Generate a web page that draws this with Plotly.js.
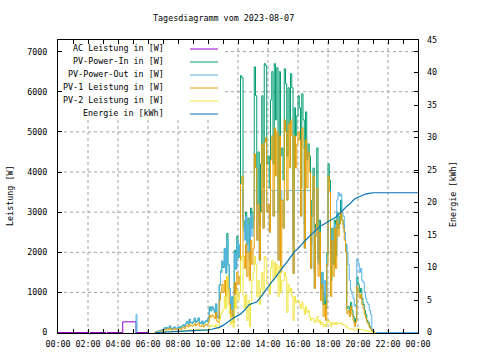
<!DOCTYPE html>
<html><head><meta charset="utf-8">
<script src="https://cdn.plot.ly/plotly-3.0.1.min.js"></script>
<style>html,body{margin:0;padding:0;background:#fff}</style>
</head><body><div id="c" style="width:480px;height:360px"></div>
<script>
const DAY = '2023-08-07';
const titleText = 'Tagesdiagramm vom 2023-08-07';
const seriesNames = ['AC Leistung in [W]','PV-Power-In in [W]','PV-Power-Out in [W]','PV-1 Leistung in [W]','PV-2 Leistung in [W]','Energie in [kWh]'];
const seriesColors = ['#9400d3','#009e73','#56b4e9','#e69f00','#f0e442','#0072b2'];
const yLeftTicks = [0,1000,2000,3000,4000,5000,6000,7000];
const yRightTicks = [0,5,10,15,20,25,30,35,40,45];
const xGridHours = [2,4,6,8,10,12,14,16,18,20,22];

// AC Leistung (night values)
const acTimes = ['00:00','02:01','02:03','02:08','03:12','03:14','03:16','04:19','05:12','06:01'];
const acVals  = [0,0,null,0,0,null,0,266,0,0];

// PV-Power-Out early spike
const outEarlyTimes = ['05:08','05:12','05:16','05:18'];
const outEarlyVals  = [0,450,0,null];

// 5-minute samples from 06:25 to 21:10
const pvIn = [
 0,15,25,30,40,50,70,
 75,120,85,125,95,160,110,85,120,135,95,115,
 120,140,115,160,190,150,220,270,210,330,250,230,
 270,360,250,290,350,240,220,280,210,250,290,270,
 360,640,540,630,580,500,700,400,360,1180,1500,1760,
 1620,2080,1480,2470,1680,1080,580,880,380,2050,1580,2400,
 1870,2150,6400,6350,2800,2500,3000,2200,2850,2000,3100,2600,
 3000,6620,5900,3200,4500,2700,4200,5900,3600,6700,6650,4200,
 4400,3600,5800,6500,4200,6700,5300,6600,3000,6500,4400,4600,
 3800,6570,6200,4400,6100,5200,6450,6100,2300,5600,4900,5400,
 5900,5600,3600,5950,5300,2700,5500,4300,4700,4400,2200,3300,
 4100,1500,2700,4600,1800,2800,1100,1500,700,1000,600,2000,
 4200,3800,1300,2600,1700,2800,1900,3000,2600,2900,3300,2800,
 2700,2500,2200,600,650,500,750,550,400,250,350,1370,
 1200,1000,1100,850,700,550,450,300,250,150,100,40,
 20,0,0];
const pvOut = [
 0,20,30,35,40,55,75,
 80,110,90,130,100,170,120,90,110,140,100,120,
 130,150,120,170,200,160,230,280,220,320,260,240,
 280,350,260,300,370,250,230,290,220,260,300,280,
 380,620,560,650,600,520,720,420,380,1200,1540,1790,
 1650,2100,1500,2350,1700,1100,600,900,400,2000,1600,2300,
 1900,2200,3540,3540,2600,2300,2900,2000,2700,1800,2950,2400,
 2800,3540,3540,2300,3200,1800,3000,3540,2600,3540,3540,3000,
 3200,2500,3540,3540,2900,3540,3540,3540,1800,3540,3540,3300,
 2600,3540,3540,3300,3540,3540,3540,3540,1470,3540,3540,3540,
 3540,3540,2900,3540,3540,2100,3540,3540,3540,3540,1600,2900,
 3540,1100,2600,3540,1700,2500,1200,1500,900,1300,800,1900,
 3540,3540,1600,2400,1900,2700,2200,3300,3490,3400,3450,3000,
 2900,2500,2200,2000,1700,1300,1050,950,850,650,700,1840,
 1720,1500,1600,1300,1250,1000,850,750,700,550,450,80,
 40,0,0];
const pv1 = [
 0,10,15,20,25,30,45,
 55,75,60,85,70,110,80,60,75,95,70,80,
 85,100,80,110,130,100,150,180,140,200,170,160,
 180,220,170,200,240,160,150,190,140,170,200,185,
 250,420,380,440,400,350,500,280,250,800,1000,1200,
 1000,1300,900,1400,1050,700,380,550,250,1250,950,1500,
 1200,1400,3700,3900,1900,1600,2200,1400,2000,1300,2300,1700,
 2100,4450,4100,2300,3200,1800,3000,4700,2600,4750,4860,3000,
 3200,2500,4300,4900,2900,5100,3900,5000,1800,4900,1500,3300,
 2600,5300,5000,3300,5200,4100,5300,4900,1470,4900,4100,4700,
 5000,4800,2900,5100,4600,2100,4800,3600,4500,4000,1600,2900,
 3900,1100,2400,3600,1400,2500,800,1200,400,700,300,1700,
 3900,3500,900,2300,1400,2600,1600,2800,2400,2700,3000,2800,
 2600,2300,2000,470,550,400,650,450,300,150,250,1150,
 1000,850,950,700,600,450,350,250,200,120,80,30,
 15,0,0];
const pv2 = [
 0,5,8,10,12,15,20,
 20,25,22,30,25,40,28,22,25,32,25,28,
 30,35,30,40,50,40,55,65,55,75,60,55,
 65,80,60,70,90,60,55,70,55,65,75,70,
 90,170,150,180,160,140,200,110,100,330,450,520,
 580,900,600,1400,700,450,200,330,130,900,600,1050,
 800,1000,1800,1900,900,600,950,300,800,150,700,1300,
 1500,1900,1700,900,1300,700,1100,1500,1000,1900,1850,1200,
 1200,950,1600,1800,1300,1750,1400,1700,900,1650,1000,1300,
 1300,1500,1400,500,1200,1000,1100,900,300,900,750,800,
 800,700,600,750,600,450,650,500,550,400,300,350,
 350,250,300,400,250,300,200,250,150,200,150,250,
 300,250,150,250,200,250,200,250,220,230,250,200,
 200,180,170,120,110,100,90,80,70,60,60,100,
 90,80,80,70,60,50,45,40,35,25,20,10,
 5,0,0];
const outTailTimes = ['2023-08-08 00:00'];
const outTailVals = [0];

// Energie (kWh)
const energyTimes = ['06:30','07:00','07:30','08:00','08:30','09:00','09:30','10:00','10:15','10:30','10:45',
 '11:00','11:15','11:30','11:45','12:00','12:15','12:30','12:45','13:00','13:15','13:30','13:45',
 '14:00','14:15','14:30','14:45','15:00','15:15','15:30','15:45','16:00','16:15','16:30','16:45',
 '17:00','17:15','17:30','17:45','18:00','18:15','18:30','18:45','19:00','19:15','19:30','19:45',
 '20:00','20:15','20:30','20:45','21:00'];
const energyVals = [0,0.05,0.1,0.15,0.2,0.25,0.3,0.4,0.5,0.6,0.8,
 1.1,1.5,2.0,2.3,2.6,3.0,3.6,4.3,4.5,4.7,5.4,6.2,
 7.1,7.8,8.5,9.4,10.1,10.8,11.6,12.4,12.9,13.6,14.2,14.8,
 15.3,15.9,16.4,16.7,17.1,17.4,17.7,18.3,18.8,19.4,19.9,20.5,
 20.8,21.1,21.3,21.4,21.5];
const energyTailTimes = ['2023-08-08 00:00'];
const energyTailVals = [21.5];

// ---- build
function slotTimes(n){
  const a=[];
  for(let i=0;i<n;i++){
    const m=6*60+25+5*i;
    a.push(DAY+' '+String(Math.floor(m/60)).padStart(2,'0')+':'+String(m%60).padStart(2,'0'));
  }
  return a;
}
const d = t => DAY+' '+t;
const grid = slotTimes(pvIn.length);

const base = {type:'scatter', mode:'lines', hoverinfo:'skip'};
const traces = [
  Object.assign({}, base, {x:acTimes.map(d), y:acVals, line:{shape:'hv',width:1,color:seriesColors[0]}, connectgaps:false}),
  Object.assign({}, base, {x:grid, y:pvIn, line:{shape:'hv',width:1,color:seriesColors[1]}}),
  Object.assign({}, base, {x:outEarlyTimes.map(d).concat(grid, outTailTimes), y:outEarlyVals.concat(pvOut, outTailVals), line:{shape:'hv',width:1,color:seriesColors[2]}, connectgaps:false}),
  Object.assign({}, base, {x:grid, y:pv1, line:{shape:'hv',width:1,color:seriesColors[3]}}),
  Object.assign({}, base, {x:grid, y:pv2, line:{shape:'hv',width:1,color:seriesColors[4]}}),
  {type:'scatter', mode:'lines', x:energyTimes.map(d).concat(energyTailTimes), y:energyVals.concat(energyTailVals), yaxis:'y2', line:{width:1.2,color:seriesColors[5]}, hoverinfo:'skip'}
];

const L=58, R=418, T=40, B=333;
const X = px => (px-L)/(R-L);
const Y = py => (B-py)/(B-T);
const FONT = {family:'DejaVu Sans Mono, monospace', size:8.4, color:'#000'};
const KEY_RIGHT = X(225), KEY_BOTTOM = Y(120);

const annotations = [
  {text:titleText, x:X(223), y:Y(18), xref:'paper', yref:'paper', showarrow:false, xanchor:'center', yanchor:'middle', font:FONT},
  {text:'Leistung [W]', x:X(10), y:Y(196), xref:'paper', yref:'paper', showarrow:false, textangle:-90, xanchor:'center', yanchor:'middle', font:FONT},
  {text:'Energie [kWh]', x:X(453), y:Y(194), xref:'paper', yref:'paper', showarrow:false, textangle:-90, xanchor:'center', yanchor:'middle', font:FONT}
];
const GRIDLINE = {color:'#a0a0a0', width:1, dash:'3px,3px'};
const shapes = [];
// dashed grid, left open behind the key (like an opaque key box)
yLeftTicks.filter(v=>v>0).forEach(v=>{
  shapes.push({type:'line', xref:'paper', yref:'y', x0:(v>=5500?KEY_RIGHT:0), x1:1, y0:v, y1:v, line:GRIDLINE, layer:'below'});
});
xGridHours.forEach(h=>{
  const t = DAY+' '+String(h).padStart(2,'0')+':00';
  shapes.push({type:'line', xref:'x', yref:'paper', x0:t, x1:t, y0:0, y1:(h<=10?KEY_BOTTOM:1), line:GRIDLINE, layer:'below'});
});
seriesNames.forEach((n,i)=>{
  const ly = 49 + 13*i;
  annotations.push({text:n, x:X(166), y:Y(ly-1.5), xref:'paper', yref:'paper', showarrow:false, xanchor:'right', yanchor:'middle', font:FONT});
  shapes.push({type:'line', xref:'paper', yref:'paper', x0:X(190), x1:X(218), y0:Y(ly), y1:Y(ly), line:{color:seriesColors[i], width:1}, layer:'above'});
});

const layout = {
  width:480, height:360,
  margin:{l:L, r:480-R, t:T, b:360-B, pad:0},
  paper_bgcolor:'#fff', plot_bgcolor:'rgba(0,0,0,0)',
  showlegend:false, font:FONT,
  xaxis:{type:'date', range:[DAY+' 00:00','2023-08-08 00:00'], tick0:DAY+' 00:00', dtick:7200000, tickformat:'%H:%M',
    showgrid:false, showline:true, linecolor:'#000', linewidth:1, mirror:'allticks', ticks:'inside', ticklen:4, tickcolor:'#000',
    minor:{dtick:3600000, ticks:'inside', ticklen:3, tickcolor:'#000', showgrid:false},
    zeroline:false, ticklabelstandoff:3, tickfont:FONT, fixedrange:true},
  yaxis:{range:[-12,7290], tickvals:yLeftTicks, ticktext:yLeftTicks.map(String),
    showgrid:false, showline:true, linecolor:'#000', linewidth:1, mirror:'allticks', ticks:'inside', ticklen:4, tickcolor:'#000',
    zeroline:false, ticklabelstandoff:8, tickfont:FONT, fixedrange:true},
  yaxis2:{overlaying:'y', side:'right', range:[-0.074,45], tickvals:yRightTicks, ticktext:yRightTicks.map(String),
    showgrid:false, showline:false, ticks:'inside', ticklen:4, tickcolor:'#000', zeroline:false,
    ticklabelstandoff:8, tickfont:FONT, fixedrange:true},
  annotations:annotations, shapes:shapes
};
Plotly.newPlot('c', traces, layout, {displayModeBar:false, staticPlot:true});
</script></body></html>
